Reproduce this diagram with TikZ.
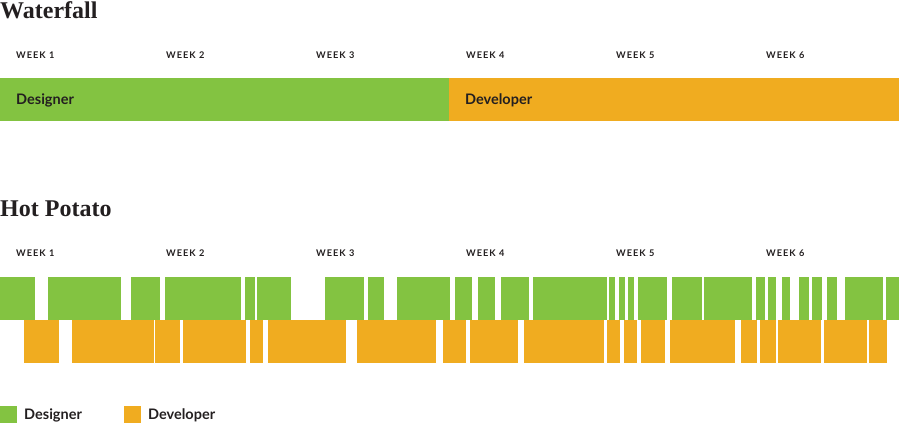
\documentclass[tikz,border=0pt]{standalone}
\usepackage{fontspec}
\setmainfont{Liberation Serif}
\newfontfamily\labfont{Lato}
\newfontfamily\weekfont[LetterSpace=11]{Lato}
\definecolor{desg}{HTML}{83C341}
\definecolor{devo}{HTML}{F0AC20}
\definecolor{ink}{HTML}{231F20}
\begin{document}
\begin{tikzpicture}[x=1pt,y=-1pt,
  title/.style={anchor=base west,inner sep=0pt,font=\fontsize{24}{24}\selectfont\bfseries,text=ink},
  week/.style={anchor=base west,inner sep=0pt,font=\weekfont\fontsize{9.2}{10}\selectfont\bfseries,text=ink},
  lab/.style={anchor=base west,inner sep=0pt,font=\labfont\fontsize{14.5}{15}\selectfont\bfseries,text=ink},
  gbar/.style={fill=desg},
  obar/.style={fill=devo}]
\useasboundingbox (0,0) rectangle (899,424);
% Waterfall
\node[title] (t1) at (0,18) {Waterfall};
\foreach \i in {1,...,6} {
  \node[week] (wa\i) at ({16+150*(\i-1)},58) {WEEK \i};
}
\fill[gbar] (0,78) rectangle (449,121);
\fill[obar] (449,78) rectangle (899,121);
\node[lab] (wdes) at (16,104) {Designer};
\node[lab] (wdev) at (465,104) {Developer};
% Hot potato
\node[title] (t2) at (0,216) {Hot Potato};
\foreach \i in {1,...,6} {
  \node[week] (wb\i) at ({16+150*(\i-1)},256) {WEEK \i};
}
\foreach \a/\b in {0/35,48/121,131/160,165/241,245/255,257/291,325/364,368/384,397/450,455/472,478/495,501/529,533/607,609/615,619/625,628/634,638/667,672/702,704/752,756/765,768/776,782/790,799/809,812/822,827/837,845/883,886/899}
  \fill[gbar] (\a,277) rectangle (\b,320);
\foreach \a/\b in {24/59,72/154,155/180,183/246,250/263,268/346,357/436,443/466,470/518,524/604,607/620,624/637,641/665,670/735,741/757,760/776,778/821,824/867,869/887}
  \fill[obar] (\a,320) rectangle (\b,363);
% Legend
\fill[gbar] (0,406) rectangle (17,423);
\node[lab] (ldes) at (24,419) {Designer};
\fill[obar] (124,406) rectangle (141,423);
\node[lab] (ldev) at (148,419) {Developer};
\end{tikzpicture}
\end{document}
